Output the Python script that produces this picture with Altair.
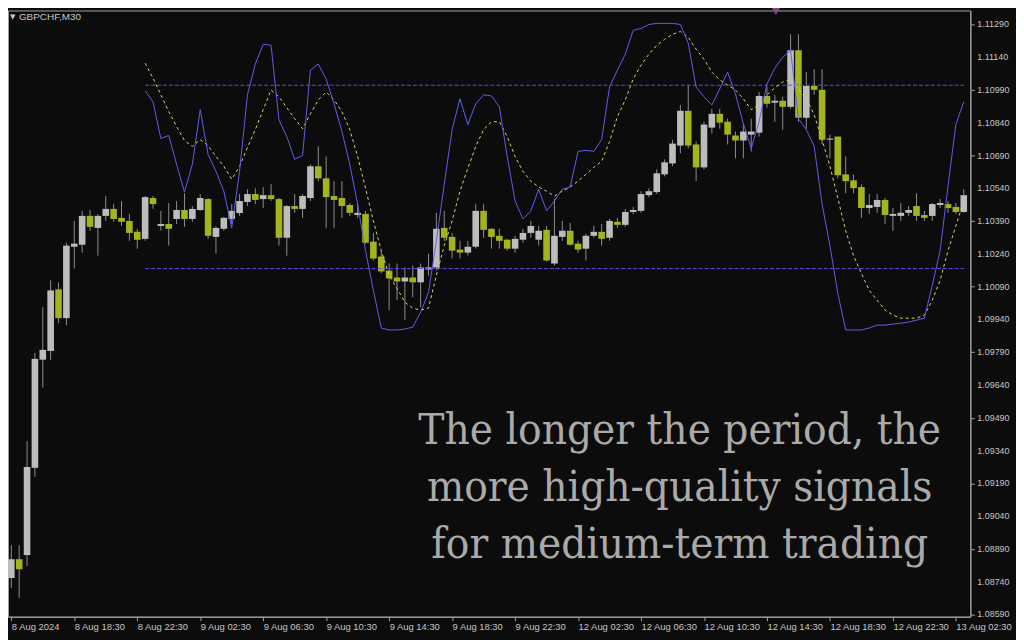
import altair as alt
import pandas as pd

# ---------------- data ----------------
bar_index = list(range(122))

opens = [1.08757, 1.08843, 1.08862, 1.09261, 1.09756, 1.09796, 1.10078, 1.09946, 1.10273, 1.10282,
         1.10414, 1.10359, 1.10414, 1.10446, 1.10405, 1.10391, 1.10341, 1.10309, 1.10496, 1.10368,
         1.10377, 1.10400, 1.10441, 1.10400, 1.10441, 1.10491, 1.10318, 1.10355, 1.10400, 1.10427,
         1.10478, 1.10514, 1.10491, 1.10509, 1.10491, 1.10314, 1.10459, 1.10446, 1.10496, 1.10641,
         1.10586, 1.10505, 1.10496, 1.10464, 1.10418, 1.10423, 1.10296, 1.10228, 1.10164, 1.10132,
         1.10114, 1.10132, 1.10110, 1.10169, 1.10178, 1.10359, 1.10318, 1.10260, 1.10246, 1.10273,
         1.10437, 1.10355, 1.10323, 1.10305, 1.10264, 1.10305, 1.10336, 1.10305, 1.10350, 1.10196,
         1.10318, 1.10346, 1.10287, 1.10264, 1.10323, 1.10341, 1.10314, 1.10387, 1.10373, 1.10432,
         1.10437, 1.10509, 1.10523, 1.10604, 1.10654, 1.10736, 1.10895, 1.10741, 1.10636, 1.10818,
         1.10881, 1.10845, 1.10782, 1.10759, 1.10786, 1.10795, 1.10963, 1.10932, 1.10941, 1.10913,
         1.11172, 1.10863, 1.11009, 1.10991, 1.10763, 1.10777, 1.10604, 1.10577, 1.10546, 1.10450,
         1.10455, 1.10487, 1.10414, 1.10414, 1.10428, 1.10459, 1.10418, 1.10414, 1.10464, 1.10468,
         1.10455, 1.10432]

highs = [1.08907, 1.08907, 1.09383, 1.09787, 1.09996, 1.10119, 1.10110, 1.10291, 1.10391, 1.10437,
         1.10441, 1.10423, 1.10505, 1.10468, 1.10482, 1.10423, 1.10355, 1.10505, 1.10505, 1.10437,
         1.10473, 1.10482, 1.10518, 1.10459, 1.10514, 1.10496, 1.10368, 1.10409, 1.10468, 1.10514,
         1.10536, 1.10541, 1.10546, 1.10559, 1.10496, 1.10464, 1.10514, 1.10514, 1.10650, 1.10732,
         1.10686, 1.10573, 1.10573, 1.10473, 1.10468, 1.10437, 1.10336, 1.10255, 1.10196, 1.10196,
         1.10178, 1.10187, 1.10196, 1.10241, 1.10428, 1.10437, 1.10336, 1.10300, 1.10300, 1.10468,
         1.10468, 1.10359, 1.10355, 1.10309, 1.10323, 1.10355, 1.10391, 1.10368, 1.10368, 1.10491,
         1.10391, 1.10382, 1.10300, 1.10332, 1.10368, 1.10377, 1.10400, 1.10405, 1.10446, 1.10455,
         1.10527, 1.10541, 1.10627, 1.10673, 1.10763, 1.10922, 1.11013, 1.10754, 1.10845, 1.10904,
         1.10904, 1.10859, 1.10800, 1.10832, 1.10859, 1.10981, 1.11004, 1.10968, 1.10959, 1.11245,
         1.11245, 1.11072, 1.11086, 1.11086, 1.10786, 1.10777, 1.10686, 1.10604, 1.10559, 1.10514,
         1.10514, 1.10496, 1.10450, 1.10473, 1.10459, 1.10518, 1.10437, 1.10473, 1.10491, 1.10482,
         1.10473, 1.10536]

lows = [1.08711, 1.08666, 1.08811, 1.09220, 1.09628, 1.09756, 1.09923, 1.09914, 1.10173, 1.10246,
        1.10346, 1.10232, 1.10391, 1.10387, 1.10368, 1.10300, 1.10264, 1.10300, 1.10446, 1.10346,
        1.10278, 1.10377, 1.10364, 1.10387, 1.10437, 1.10309, 1.10241, 1.10346, 1.10377, 1.10414,
        1.10459, 1.10468, 1.10450, 1.10482, 1.10278, 1.10232, 1.10428, 1.10405, 1.10482, 1.10573,
        1.10359, 1.10359, 1.10405, 1.10414, 1.10405, 1.10287, 1.10210, 1.10151, 1.09983, 1.10028,
        1.09937, 1.10042, 1.09996, 1.10141, 1.10164, 1.10300, 1.10219, 1.10219, 1.10232, 1.10264,
        1.10314, 1.10264, 1.10264, 1.10255, 1.10246, 1.10291, 1.10314, 1.10278, 1.10205, 1.10187,
        1.10300, 1.10278, 1.10246, 1.10210, 1.10314, 1.10278, 1.10300, 1.10359, 1.10364, 1.10423,
        1.10428, 1.10500, 1.10514, 1.10595, 1.10641, 1.10700, 1.10723, 1.10573, 1.10627, 1.10791,
        1.10813, 1.10741, 1.10677, 1.10677, 1.10709, 1.10777, 1.10909, 1.10845, 1.10809, 1.10904,
        1.10845, 1.10813, 1.10968, 1.10741, 1.10677, 1.10586, 1.10518, 1.10518, 1.10405, 1.10423,
        1.10428, 1.10377, 1.10346, 1.10391, 1.10414, 1.10391, 1.10391, 1.10391, 1.10450, 1.10428,
        1.10423, 1.10428]

closes = [1.08843, 1.08797, 1.09265, 1.09760, 1.09801, 1.10073, 1.09946, 1.10278, 1.10287, 1.10414,
          1.10364, 1.10414, 1.10446, 1.10400, 1.10387, 1.10336, 1.10305, 1.10500, 1.10468, 1.10377,
          1.10355, 1.10441, 1.10400, 1.10446, 1.10496, 1.10323, 1.10359, 1.10405, 1.10437, 1.10482,
          1.10514, 1.10487, 1.10509, 1.10491, 1.10314, 1.10459, 1.10446, 1.10505, 1.10641, 1.10586,
          1.10500, 1.10487, 1.10459, 1.10428, 1.10428, 1.10291, 1.10219, 1.10160, 1.10128, 1.10114,
          1.10132, 1.10110, 1.10178, 1.10178, 1.10355, 1.10314, 1.10255, 1.10246, 1.10273, 1.10437,
          1.10350, 1.10318, 1.10300, 1.10264, 1.10309, 1.10336, 1.10368, 1.10346, 1.10210, 1.10323,
          1.10346, 1.10282, 1.10260, 1.10323, 1.10341, 1.10309, 1.10391, 1.10373, 1.10432, 1.10441,
          1.10514, 1.10527, 1.10609, 1.10659, 1.10745, 1.10895, 1.10736, 1.10636, 1.10832, 1.10881,
          1.10841, 1.10786, 1.10759, 1.10800, 1.10800, 1.10963, 1.10927, 1.10941, 1.10913, 1.11172,
          1.10863, 1.11009, 1.10991, 1.10763, 1.10768, 1.10600, 1.10573, 1.10541, 1.10450, 1.10464,
          1.10487, 1.10418, 1.10423, 1.10428, 1.10441, 1.10414, 1.10405, 1.10468, 1.10473, 1.10450,
          1.10432, 1.10509]

# indicator lines start at bar 17
indicator_start = 17
fast_line = [1.10986, 1.10936, 1.10768, 1.10782, 1.10650, 1.10523, 1.10650, 1.10900, 1.10695, 1.10618,
             1.10527, 1.10359, 1.10618, 1.10968, 1.11109, 1.11199, 1.11195, 1.10854, 1.10777, 1.10673,
             1.10691, 1.11081, 1.11109, 1.11040, 1.10927, 1.10800, 1.10650, 1.10468, 1.10255, 1.10073,
             1.09901, 1.09892, 1.09892, 1.09896, 1.09905, 1.09973, 1.10064, 1.10300, 1.10559, 1.10809,
             1.10950, 1.10832, 1.10927, 1.10968, 1.10963, 1.10913, 1.10686, 1.10482, 1.10400, 1.10437,
             1.10536, 1.10437, 1.10482, 1.10536, 1.10546, 1.10709, 1.10714, 1.10709, 1.10763, 1.11004,
             1.11081, 1.11154, 1.11263, 1.11272, 1.11290, 1.11295, 1.11295, 1.11295, 1.11290, 1.11204,
             1.11004, 1.10959, 1.10922, 1.10995, 1.11072, 1.10972, 1.10836, 1.10723, 1.10845, 1.11018,
             1.11090, 1.11140, 1.11172, 1.10859, 1.10809, 1.10732, 1.10468, 1.10278, 1.10060, 1.09892,
             1.09892, 1.09892, 1.09901, 1.09914, 1.09914, 1.09919, 1.09923, 1.09928, 1.09937, 1.09946,
             1.10096, 1.10255, 1.10550, 1.10832, 1.10936]

slow_line = [1.11113, 1.11045, 1.10968, 1.10891, 1.10823, 1.10759, 1.10732, 1.10763, 1.10736, 1.10686,
             1.10641, 1.10582, 1.10641, 1.10727, 1.10809, 1.10900, 1.10990, 1.10959, 1.10909, 1.10859,
             1.10813, 1.10881, 1.10945, 1.10981, 1.10945, 1.10891, 1.10809, 1.10686, 1.10541, 1.10391,
             1.10255, 1.10142, 1.10082, 1.10019, 1.09992, 1.09983, 1.09992, 1.10142, 1.10278, 1.10391,
             1.10527, 1.10632, 1.10732, 1.10809, 1.10845, 1.10845, 1.10777, 1.10686, 1.10618, 1.10573,
             1.10546, 1.10527, 1.10505, 1.10527, 1.10546, 1.10573, 1.10604, 1.10636, 1.10664, 1.10754,
             1.10868, 1.10945, 1.11040, 1.11104, 1.11154, 1.11195, 1.11222, 1.11245, 1.11258, 1.11231,
             1.11177, 1.11131, 1.11072, 1.11036, 1.11013, 1.10990, 1.10950, 1.10900, 1.10922, 1.10968,
             1.11000, 1.11027, 1.11040, 1.10995, 1.10950, 1.10877, 1.10763, 1.10641, 1.10496, 1.10346,
             1.10232, 1.10151, 1.10073, 1.10028, 1.09983, 1.09960, 1.09946, 1.09946, 1.09946, 1.09960,
             1.10028, 1.10119, 1.10255, 1.10368, 1.10482]

level_values = [1.11012, 1.10173]
level_start = [17, 17]
level_end = [121, 121]

x_tick_bars = [0, 8, 16, 24, 32, 40, 48, 56, 64, 72, 80, 88, 96, 104, 112, 120]
x_labels = ["8 Aug 2024", "8 Aug 18:30", "8 Aug 22:30", "9 Aug 02:30", "9 Aug 06:30",
            "9 Aug 10:30", "9 Aug 14:30", "9 Aug 18:30", "9 Aug 22:30", "12 Aug 02:30",
            "12 Aug 06:30", "12 Aug 10:30", "12 Aug 14:30", "12 Aug 18:30", "12 Aug 22:30",
            "13 Aug 02:30"]
y_ticks = [1.08590, 1.08740, 1.08890, 1.09040, 1.09190, 1.09340, 1.09490, 1.09640, 1.09790,
           1.09940, 1.10090, 1.10240, 1.10390, 1.10540, 1.10690, 1.10840, 1.10990, 1.11140,
           1.11290]

symbol_label = "GBPCHF,M30"
overlay_lines = ["The longer the period, the",
                 "more high-quality signals",
                 "for medium-term trading"]

# ---------------- tables ----------------
candles = pd.DataFrame({"i": bar_index, "o": opens, "h": highs, "l": lows, "c": closes})
candles["dir"] = ["up" if c > o else "down" for o, c in zip(opens, closes)]

ind = pd.DataFrame({
    "i": list(range(indicator_start, indicator_start + len(fast_line))),
    "fast": fast_line,
    "slow": slow_line,
})
levels = pd.DataFrame({"start": level_start, "end": level_end, "level": level_values})
ytick_df = pd.DataFrame({"p": y_ticks, "lab": [f"{v:.5f}" for v in y_ticks]})
one = pd.DataFrame({"a": [0]})

# ---------------- scales / axes ----------------
BG = "#0c0c0c"
AXIS_COL = "#a4a4a4"
LABEL_COL = "#c6c6c6"
PLOT_W = 970
PLOT_H = 611

xscale = alt.Scale(domain=[-0.42, 121.84], nice=False, zero=False)
yscale = alt.Scale(domain=[1.08580, 1.11354], nice=False, zero=False)

label_arr = "[" + ",".join("'" + s + "'" for s in x_labels) + "]"
xaxis = alt.Axis(
    orient="bottom", values=x_tick_bars,
    labelExpr=label_arr + "[round(datum.value / 8)]",
    labelAlign="left", labelBaseline="top", labelPadding=1,
    labelColor=LABEL_COL, labelFont="Liberation Sans", labelFontSize=9.5,
    tickSize=4, tickColor=AXIS_COL, domainColor=AXIS_COL,
    grid=False, labelOverlap=False, labelFlush=False, labelBound=False,
)
yaxis = alt.Axis(
    orient="right", values=y_ticks, labels=False,
    tickSize=4, tickColor=AXIS_COL, domainColor=AXIS_COL, grid=False,
)

wicks = alt.Chart(candles).mark_rule(color="#8e8e8e", strokeWidth=1).encode(
    x=alt.X("i:Q", scale=xscale, axis=xaxis, title=None),
    y=alt.Y("l:Q", scale=yscale, axis=yaxis, title=None),
    y2="h:Q",
)

bodies = alt.Chart(candles).transform_calculate(
    xl="datum.i - 0.42", xr="datum.i + 0.42"
).mark_bar().encode(
    x=alt.X("xl:Q", title=None),
    x2="xr:Q",
    y=alt.Y("o:Q", title=None),
    y2="c:Q",
    color=alt.Color("dir:N", scale=alt.Scale(domain=["up", "down"],
                                             range=["#bdbdbd", "#a3b41c"]), legend=None),
)

level_rules = alt.Chart(levels).mark_rule(color="#6a48e6", strokeDash=[4, 2], strokeWidth=1).encode(
    x=alt.X("start:Q", title=None), x2="end:Q", y=alt.Y("level:Q", title=None)
)

slow = alt.Chart(ind).mark_line(color="#d8d868", strokeDash=[3, 3], strokeWidth=1).encode(
    x=alt.X("i:Q", title=None), y=alt.Y("slow:Q", title=None)
)
fast = alt.Chart(ind).mark_line(color="#5e5ef0", strokeWidth=1).encode(
    x=alt.X("i:Q", title=None), y=alt.Y("fast:Q", title=None)
)

# price labels on the right (drawn through the price scale)
ylabels = alt.Chart(ytick_df).mark_text(
    align="left", baseline="middle", font="Liberation Sans", fontSize=9, color=LABEL_COL
).encode(
    x=alt.value(PLOT_W + 7),
    y=alt.Y("p:Q", title=None),
    text="lab:N",
)

sym_tri = alt.Chart(one).mark_text(fontSize=7, color=LABEL_COL, align="left", baseline="middle",
                                   font="DejaVu Sans").encode(
    x=alt.value(2), y=alt.value(7), text=alt.value("\u25bc"))
sym_text = alt.Chart(one).mark_text(fontSize=10, color=LABEL_COL, align="left", baseline="middle",
                                    font="Liberation Sans").encode(
    x=alt.value(11), y=alt.value(7), text=alt.value(symbol_label))

marker = alt.Chart(one).mark_point(shape="triangle-down", filled=True, size=70,
                                   color="#7b4d7b", opacity=1).encode(
    x=alt.value(774), y=alt.value(1))

text_layers = []
for k, line in enumerate(overlay_lines):
    text_layers.append(
        alt.Chart(one).mark_text(
            font="DejaVu Serif Condensed, DejaVu Serif", fontSize=44, color="#aaaaaa",
            align="center", baseline="alphabetic",
        ).encode(x=alt.value(677), y=alt.value(437 + 57.5 * k), text=alt.value(line))
    )

chart = alt.layer(
    wicks, bodies, level_rules, slow, fast, ylabels, sym_tri, sym_text, marker, *text_layers
).properties(
    width=PLOT_W, height=PLOT_H,
    padding={"left": 0, "top": 0, "right": 46, "bottom": 21},
    autosize=alt.AutoSizeParams(type="none"),
    background=BG,
).configure_view(
    stroke=AXIS_COL, strokeWidth=1,
).configure_axis(
    labelOverlap=False,
)

chart.save("out.html", embed_options={"renderer": "svg", "actions": False})
